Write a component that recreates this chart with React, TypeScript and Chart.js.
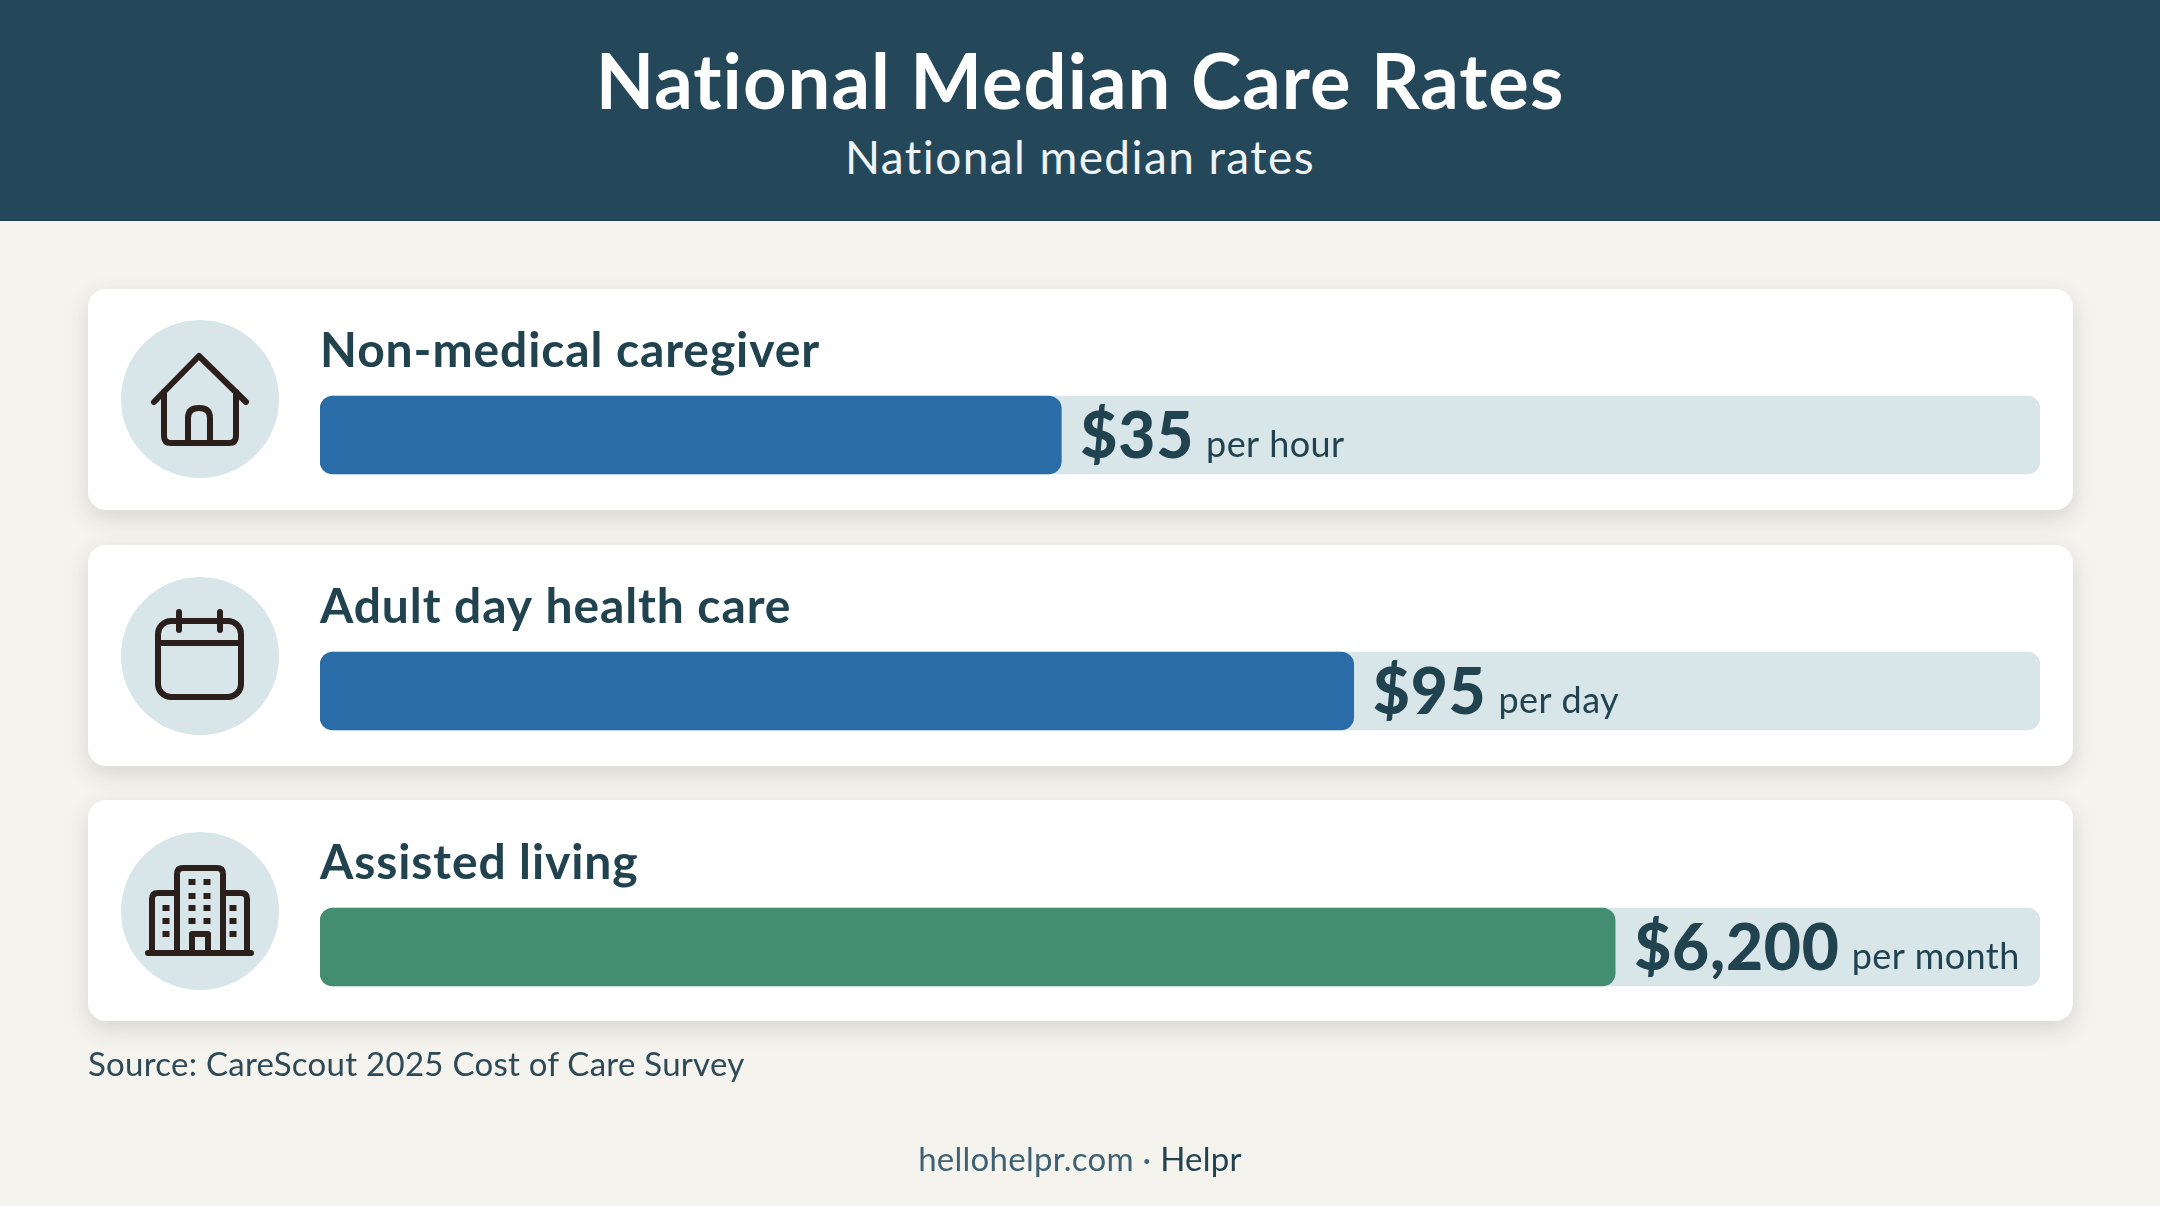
import React, { useEffect, useRef } from 'react';
import { Chart, registerables } from 'chart.js';

Chart.register(...registerables);

const categories = ['Non-medical caregiver', 'Adult day health care', 'Assisted living'];
const rates = [35, 95, 6200];
const units = ['per hour', 'per day', 'per month'];
// share of the track filled in the picture, the three rates have different units
const barShare = [43.1, 60.1, 75.3];
const trackFull = [100, 100, 100];

const FONT = 'Lato, "Noto Sans", sans-serif';
const INK = '#21424f';

const barLabels = {
  id: 'barLabels',
  afterDatasetsDraw(chart: any) {
    const { ctx } = chart;
    const bars = chart.getDatasetMeta(0).data;
    ctx.save();
    ctx.textBaseline = 'alphabetic';
    ctx.textAlign = 'left';
    ctx.fillStyle = INK;
    bars.forEach((bar: any, i: number) => {
      const top = bar.y - bar.height / 2;
      ctx.font = `bold 48px ${FONT}`;
      ctx.letterSpacing = '0.9px';
      ctx.fillText(categories[i], chart.chartArea.left, top - 29);

      const rate = '$' + rates[i].toLocaleString('en-US');
      const x = bar.x + 19;
      ctx.font = `900 64px ${FONT}`;
      ctx.letterSpacing = '0.8px';
      ctx.fillText(rate, x, bar.y + 23);
      const w = ctx.measureText(rate).width;
      ctx.font = `400 36px ${FONT}`;
      ctx.letterSpacing = '0.4px';
      ctx.fillText(units[i], x + w + 12, bar.y + 22);
    });
    ctx.restore();
  },
};

const cardTops = [289, 545, 800];
const circleTops = [320, 577, 832];

const HouseIcon = () => (
  <g>
    <path d="M154 402 L199 356 L246 402" />
    <path d="M164 392 V436 Q164 443 171 443 H229 Q236 443 236 436 V392" />
    <path d="M188 443 V418 Q188 408 199 408 Q210 408 210 418 V443" />
  </g>
);

const CalendarIcon = () => (
  <g>
    <rect x="158" y="621" width="83" height="76" rx="13" />
    <path d="M158 643 H241" />
    <path d="M179 612 V630" />
    <path d="M220 612 V630" />
  </g>
);

const towerX = [192, 207];
const towerY = [882, 896, 908, 921];
const wingX = [166, 233];
const wingY = [908, 921, 934];

const BuildingIcon = () => (
  <g>
    <path d="M148 953 H251" />
    <path d="M177 953 V874 Q177 868 183 868 H217 Q223 868 223 874 V953" />
    <path d="M177 893 H158 Q152 893 152 899 V953" />
    <path d="M223 893 H241 Q247 893 247 899 V953" />
    <path d="M192 953 V934 H208 V953" />
    {towerX.flatMap((x) => towerY.map((y) => (
      <rect key={`${x}-${y}`} x={x - 3.5} y={y - 3} width="7" height="6" fill="#2b1f1b" stroke="none" />
    )))}
    {wingX.flatMap((x) => wingY.map((y) => (
      <rect key={`${x}-${y}`} x={x - 3.5} y={y - 3} width="7" height="6" fill="#2b1f1b" stroke="none" />
    )))}
  </g>
);

const App = () => {
  const chartRef = useRef<HTMLCanvasElement>(null);

  useEffect(() => {
    if (!chartRef.current) return;

    const myChart = new Chart(chartRef.current, {
      type: 'bar',
      data: {
        labels: categories,
        datasets: [
          {
            label: 'Fill',
            data: barShare,
            backgroundColor: ['#2a6ca8', '#2a6ca8', '#438d72'],
            borderRadius: 13,
            borderSkipped: false,
            barThickness: 78,
            grouped: false,
          },
          {
            label: 'Track',
            data: trackFull,
            backgroundColor: '#d9e6e9',
            borderRadius: 13,
            borderSkipped: false,
            barThickness: 78,
            grouped: false,
          },
        ],
      } as any,
      options: {
        indexAxis: 'y',
        animation: false,
        responsive: false,
        devicePixelRatio: 1,
        layout: { padding: { left: 320, right: 120, top: 307, bottom: 131 } },
        scales: {
          x: { display: false, min: 0, max: 100 },
          y: { display: false },
        },
        plugins: {
          legend: { display: false },
          tooltip: { enabled: false },
        },
      },
      plugins: [barLabels],
    });

    return () => {
      myChart.destroy();
    };
  }, []);

  return (
    <div style={{ position: 'absolute', left: 0, top: 0, width: 2160, height: 1206, background: '#f4f3ee', overflow: 'hidden', fontFamily: FONT }}>
      <div style={{ position: 'absolute', left: 0, top: 0, width: 2160, height: 220, background: '#25475a', borderBottom: '1px solid #1d3a48', color: '#fff', textAlign: 'center' }}>
        <div style={{ position: 'absolute', left: 0, right: 0, top: 35, fontSize: 76, lineHeight: '90px', fontWeight: 700, letterSpacing: 1 }}>National Median Care Rates</div>
        <div style={{ position: 'absolute', left: 0, right: 0, top: 129, fontSize: 46, lineHeight: '56px', fontWeight: 400, letterSpacing: 1.4, color: '#eef3f5' }}>National median rates</div>
      </div>

      {cardTops.map((top) => (
        <div key={top} style={{ position: 'absolute', left: 88, top, width: 1985, height: 221, background: '#fff', borderRadius: 18, boxShadow: '0 8px 22px rgba(60,60,50,0.16)' }} />
      ))}
      {circleTops.map((top) => (
        <div key={top} style={{ position: 'absolute', left: 121, top, width: 158, height: 158, borderRadius: '50%', background: '#d9e6e9' }} />
      ))}

      <svg width="2160" height="1206" style={{ position: 'absolute', left: 0, top: 0 }} fill="none" stroke="#2b1f1b" strokeWidth="6" strokeLinecap="round" strokeLinejoin="round">
        <HouseIcon />
        <CalendarIcon />
        <BuildingIcon />
      </svg>

      <canvas ref={chartRef} width={2160} height={1206} style={{ position: 'absolute', left: 0, top: 0, width: 2160, height: 1206 }} />

      <div style={{ position: 'absolute', left: 88, top: 1043, fontSize: 33, lineHeight: '40px', letterSpacing: 0.27, color: '#2f4a57' }}>Source: CareScout 2025 Cost of Care Survey</div>
      <div style={{ position: 'absolute', left: 0, right: 0, top: 1138, textAlign: 'center', fontSize: 33, lineHeight: '40px', letterSpacing: 0.26, color: '#3f6272' }}>
        hellohelpr.com · <span style={{ color: INK }}>Helpr</span>
      </div>
    </div>
  );
};

export default App;
